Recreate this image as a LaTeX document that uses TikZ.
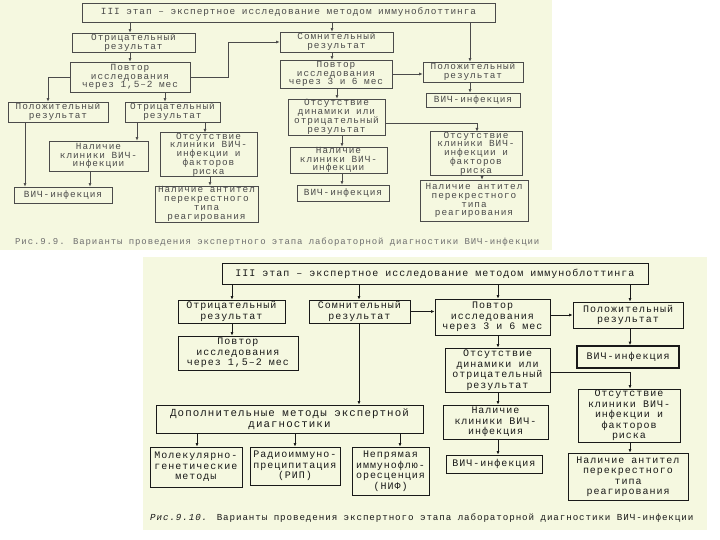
\documentclass[tikz,border=0pt]{standalone}
\usepackage{fontspec}
\setmainfont{Liberation Serif}
\newfontfamily\boxfont[LetterSpace=10]{Liberation Mono}
\usetikzlibrary{arrows.meta}
\definecolor{bg}{RGB}{245,248,224}
\definecolor{inkA}{RGB}{75,75,75}
\definecolor{inkB}{RGB}{25,25,25}
\begin{document}
\begin{tikzpicture}[x=1pt,y=-1pt,
  sz/.style 2 args={minimum width=#1pt, minimum height=#2pt},
  tA/.style={draw=inkA, line width=0.7pt, text=inkA, font=\boxfont\fontsize{9.4}{8.8}\selectfont, align=center, inner sep=0pt},
  tB/.style={draw=inkB, line width=0.8pt, text=inkB, font=\boxfont\fontsize{10}{10.5}\selectfont, align=center, inner sep=0pt},
  arA/.style={draw=inkA, line width=0.6pt, -{Latex[length=3.5pt,width=3pt]}},
  arB/.style={draw=inkB, line width=0.7pt, -{Latex[length=3.5pt,width=3pt]}},
  capA/.style={text=inkA!80, font=\boxfont\fontsize{9}{10}\selectfont, anchor=west, inner sep=0pt},
  capB/.style={text=inkB, font=\boxfont\fontsize{9.2}{10}\selectfont, anchor=west, inner sep=0pt}
]
\useasboundingbox (0,0) rectangle (720,540);
\fill[white] (0,0) rectangle (720,540);
\fill[bg] (0,0) rectangle (552,250);
\fill[bg] (143,257) rectangle (707,530);

% ---------------- top diagram ----------------
\node[tA, sz={413}{19}] (t0) at (288.5,12.5) {III этап – экспертное исследование методом иммуноблоттинга};
\node[tA, sz={123}{19}] (t1) at (133.5,42.5) {Отрицательный\\результат};
\node[tA, sz={113}{20}] (t2) at (336.5,42) {Сомнительный\\результат};
\node[tA, sz={120}{30}] (t3) at (130,77) {Повтор\\исследования\\через 1,5–2 мес};
\node[tA, sz={112}{28}] (t4) at (336,74) {Повтор\\исследования\\через 3 и 6 мес};
\node[tA, sz={100}{20}] (t5) at (473,72) {Положительный\\результат};
\node[tA, sz={94}{14}] (t6) at (473,100) {ВИЧ-инфекция};
\node[tA, sz={100}{20}] (t7) at (58,112) {Положительный\\результат};
\node[tA, sz={95}{20}] (t8) at (172.5,112) {Отрицательный\\результат};
\node[tA, sz={97}{36}] (t9) at (336.5,117) {Отсутствие\\динамики или\\отрицательный\\результат};
\node[tA, sz={99}{30}] (t10) at (98.5,156) {Наличие\\клиники ВИЧ-\\инфекции};
\node[tA, sz={97}{43}] (t11) at (208.5,154.5) {Отсутствие\\клиники ВИЧ-\\инфекции и\\факторов\\риска};
\node[tA, sz={97}{26}] (t12) at (338.5,160) {Наличие\\клиники ВИЧ-\\инфекции};
\node[tA, sz={92}{41}] (t13) at (476,153.5) {Отсутствие\\клиники ВИЧ-\\инфекции и\\факторов\\риска};
\node[tA, sz={92}{16}] (t14) at (343,193) {ВИЧ-инфекция};
\node[tA, sz={108}{41}] (t15) at (474,200.5) {Наличие антител\\перекрестного\\типа\\реагирования};
\node[tA, sz={98}{16}] (t16) at (63,195) {ВИЧ-инфекция};
\node[tA, sz={103}{36}] (t17) at (206.5,204) {Наличие антител\\перекрестного\\типа\\реагирования};
\node[capA] (capt) at (15,242) {Рис.9.9. Варианты проведения экспертного этапа лабораторной диагностики ВИЧ-инфекции};

\draw[arA] (130,0 |- t0.south) -- (130,0 |- t1.north);
\draw[arA] (332,0 |- t0.south) -- (332,0 |- t2.north);
\draw[arA] (470,0 |- t0.south) -- (470,0 |- t5.north);
\draw[arA] (130,0 |- t1.south) -- (130,0 |- t3.north);
\draw[arA] (t3.east) -- ++(38,0) |- (t2.west);
\draw[arA] (t3.west) -| (48,0 |- t7.north);
\draw[arA] (165,0 |- t3.south) -- (165,0 |- t8.north);
\draw[arA] (25,0 |- t7.south) -- (25,0 |- t16.north);
\draw[arA] (137,0 |- t8.south) -- (137,0 |- t10.north);
\draw[arA] (205,0 |- t8.south) -- (205,0 |- t11.north);
\draw[arA] (90,0 |- t10.south) -- (90,0 |- t16.north);
\draw[arA] (210,0 |- t11.south) -- (210,0 |- t17.north);
\draw[arA] (332,0 |- t2.south) -- (332,0 |- t4.north);
\draw[arA] (t4.east) -- (t4.east -| t5.west);
\draw[arA] (470,0 |- t5.south) -- (470,0 |- t6.north);
\draw[arA] (337,0 |- t4.south) -- (337,0 |- t9.north);
\draw[arA, line width=0.4pt] ([yshift=-6pt]t9.east) -| (477,0 |- t13.north);
\draw[arA] (342,0 |- t9.south) -- (342,0 |- t12.north);
\draw[arA] (342,0 |- t12.south) -- (342,0 |- t14.north);
\draw[arA] (482,0 |- t13.south) -- (482,0 |- t15.north);

% ---------------- bottom diagram ----------------
\node[tB, sz={426}{21}] (b0) at (435,273.5) {III этап – экспертное исследование методом иммуноблоттинга};
\node[tB, sz={107}{23}] (b1) at (231.5,311.5) {Отрицательный\\результат};
\node[tB, sz={120}{34}] (b2) at (238,353) {Повтор\\исследования\\через 1,5–2 мес};
\node[tB, sz={101}{23}] (b3) at (359.5,311.5) {Сомнительный\\результат};
\node[tB, sz={115}{36}] (b4) at (492.5,317) {Повтор\\исследования\\через 3 и 6 мес};
\node[tB, sz={110}{26}] (b5) at (628,315) {Положительный\\результат};
\node[tB, sz={102}{22}, line width=1.6pt] (b6) at (628,357) {ВИЧ-инфекция};
\node[tB, sz={105}{44}] (b7) at (497.5,370) {Отсутствие\\динамики или\\отрицательный\\результат};
\node[tB, sz={102}{53}] (b8) at (629,415.5) {Отсутствие\\клиники ВИЧ-\\инфекции и\\факторов\\риска};
\node[tB, sz={105}{34}] (b9) at (495.5,422) {Наличие\\клиники ВИЧ-\\инфекция};
\node[tB, sz={96}{18}] (b10) at (494,464) {ВИЧ-инфекция};
\node[tB, sz={120}{47}] (b11) at (628,476.5) {Наличие антител\\перекрестного\\типа\\реагирования};
\node[tB, sz={267}{28}, font=\boxfont\fontsize{10.8}{11}\selectfont] (b12) at (289.5,419) {Дополнительные методы экспертной\\диагностики};
\node[tB, sz={92}{40}] (b13) at (196,467) {Молекулярно-\\генетические\\методы};
\node[tB, sz={90}{38}] (b14) at (295,466) {Радиоиммуно-\\преципитация\\(РИП)};
\node[tB, sz={77}{48}] (b15) at (390.5,471) {Непрямая\\иммунофлю-\\оресценция\\(НИФ)};
\node[capB] (capb) at (150,518) {\textit{Рис.9.10.} Варианты проведения экспертного этапа лабораторной диагностики ВИЧ-инфекции};

\draw[arB] (232,0 |- b0.south) -- (232,0 |- b1.north);
\draw[arB] (359,0 |- b0.south) -- (359,0 |- b3.north);
\draw[arB] (498,0 |- b0.south) -- (498,0 |- b4.north);
\draw[arB] (630,0 |- b0.south) -- (630,0 |- b5.north);
\draw[arB] (232,0 |- b1.south) -- (232,0 |- b2.north);
\draw[arB] (b3.east) -- (b3.east -| b4.west);
\draw[arB] (359,0 |- b3.south) -- (359,0 |- b12.north);
\draw[arB] (b4.east |- b5.west) -- (b5.west);
\draw[arB] (498,0 |- b4.south) -- (498,0 |- b7.north);
\draw[arB] (630,0 |- b5.south) -- (630,0 |- b6.north);
\draw[arB] ([yshift=-2pt]b7.east) -| (630,0 |- b8.north);
\draw[arB] (498,0 |- b7.south) -- (498,0 |- b9.north);
\draw[arB] (498,0 |- b9.south) -- (498,0 |- b10.north);
\draw[arB] (630,0 |- b8.south) -- (630,0 |- b11.north);
\draw[arB] (197,0 |- b12.south) -- (197,0 |- b13.north);
\draw[arB] (295,0 |- b12.south) -- (295,0 |- b14.north);
\draw[arB] (400,0 |- b12.south) -- (400,0 |- b15.north);
\end{tikzpicture}
\end{document}
